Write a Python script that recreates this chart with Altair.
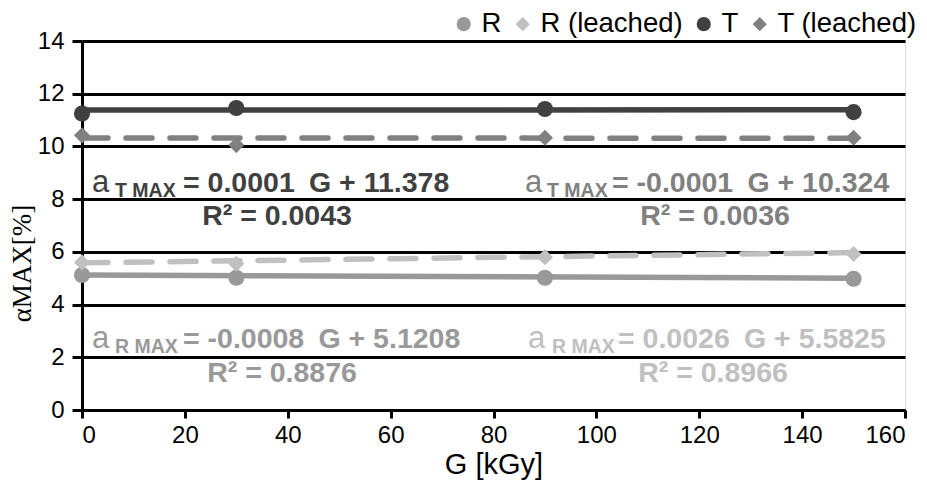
import altair as alt
import pandas as pd

# ---- data ----
series = ["R", "R (leached)", "T", "T (leached)"]
colors = ["#999999", "#c0c0c0", "#404040", "#808080"]
shapes = ["circle", "diamond", "circle", "diamond"]
dose = [0, 30, 90, 150]
vals_R = [5.12, 5.02, 5.02, 4.98]
vals_RL = [5.6, 5.55, 5.8, 5.92]
vals_T = [11.25, 11.46, 11.42, 11.3]
vals_TL = [10.42, 10.05, 10.33, 10.33]

# trend lines as printed on the chart (a = slope*G + intercept)
slopes = [-0.0008, 0.0026, 0.0001, -0.0001]
intercepts = [5.1208, 5.5825, 11.378, 10.324]
dashed = [False, True, False, True]
g_range = [0, 150]

x_ticks = [0, 20, 40, 60, 80, 100, 120, 140, 160]
y_ticks = [0, 2, 4, 6, 8, 10, 12, 14]

FONT = "Liberation Sans"
SP = "\u2002"  # wide space as in the reference equations

rows = []
for s, v in zip(series, [vals_R, vals_RL, vals_T, vals_TL]):
    for g, y in zip(dose, v):
        rows.append({"series": s, "G": g, "value": y})
pts = pd.DataFrame(rows)

W, H = 823, 369
xs = alt.Scale(domain=[0, 160], nice=False, zero=False)
ys = alt.Scale(domain=[0, 14], nice=False)

x_axis = alt.Axis(values=x_ticks, grid=False, title="G [kGy]", labelFontSize=24,
                  labelFont=FONT, labelColor="black", labelPadding=5,
                  titleFont=FONT, titleFontSize=29, titleFontWeight="normal",
                  titleColor="black", titlePadding=3, domainColor="black",
                  domainWidth=3, tickColor="black", tickWidth=3, tickSize=8)
y_axis = alt.Axis(values=y_ticks, grid=True, gridColor="black", gridWidth=3,
                  title="αMAX[%]", labelFontSize=24, labelFont=FONT,
                  labelColor="black", labelPadding=8,
                  titleFont="Liberation Serif", titleFontSize=27,
                  titleFontWeight="normal", titleColor="black",
                  titleX=-60, titleY=222, titleBaseline="middle",
                  domainColor="black", domainWidth=3, tickColor="black",
                  tickWidth=3, tickSize=10)

layers = []
base = alt.Chart(pts).mark_point(opacity=0).encode(
    x=alt.X("G:Q", scale=xs, axis=x_axis),
    y=alt.Y("value:Q", scale=ys, axis=y_axis),
)
layers.append(base)

for s, c, m, b, d in zip(series, colors, slopes, intercepts, dashed):
    ldf = pd.DataFrame({"G": g_range, "m": [m, m], "b": [b, b]})
    kw = dict(color=c, strokeWidth=5.5, strokeCap="round")
    if d:
        kw["strokeDash"] = [26, 18]
    ln = alt.Chart(ldf).transform_calculate(
        value="datum.m * datum.G + datum.b"
    ).mark_line(**kw).encode(
        x=alt.X("G:Q", scale=xs),
        y=alt.Y("value:Q", scale=ys),
    )
    layers.append(ln)

pts_layer = alt.Chart(pts).mark_point(filled=True, opacity=1, size=260).encode(
    x=alt.X("G:Q", scale=xs),
    y=alt.Y("value:Q", scale=ys),
    color=alt.Color("series:N", scale=alt.Scale(domain=series, range=colors),
                    legend=alt.Legend(title=None, orient="none", legendX=368,
                                      legendY=-31, direction="horizontal",
                                      padding=0, labelFontSize=27.5, labelFont=FONT,
                                      labelColor="black", symbolSize=200,
                                      columnPadding=7, labelOffset=4,
                                      symbolStrokeWidth=0)),
    shape=alt.Shape("series:N", scale=alt.Scale(domain=series, range=shapes)),
)
layers.append(pts_layer)

# equation annotations
dummy = pd.DataFrame({"k": [0]})
eqs = [
    (10, 33, 101, 151, "T MAX", f"= 0.0001{SP}G + 11.378", 195, 184, "R² = 0.0043", "#404040"),
    (443, 465, 530, 151, "T MAX", f"= -0.0001{SP}G + 10.324", 633, 184, "R² = 0.0036", "#808080"),
    (10, 33, 101, 307, "R MAX", f"= -0.0008{SP}G + 5.1208", 200, 341, "R² = 0.8876", "#999999"),
    (446, 470, 536, 307, "R MAX", f"= 0.0026{SP}G + 5.5825", 631, 341, "R² = 0.8966", "#c0c0c0"),
]
for ax, sx, rx, bl, sub, rest, rc, rb, r2, c in eqs:
    layers.append(alt.Chart(dummy).mark_text(text="a", font=FONT, fontSize=31,
                  align="left", baseline="alphabetic", color=c).encode(
        x=alt.value(ax), y=alt.value(bl)))
    layers.append(alt.Chart(dummy).mark_text(text=sub, font=FONT, fontSize=19.5,
                  fontWeight="bold", align="left", baseline="alphabetic",
                  color=c).encode(x=alt.value(sx), y=alt.value(bl + 5)))
    layers.append(alt.Chart(dummy).mark_text(text=rest, font=FONT, fontSize=28.5,
                  fontWeight="bold", align="left", baseline="alphabetic",
                  color=c).encode(x=alt.value(rx), y=alt.value(bl)))
    layers.append(alt.Chart(dummy).mark_text(text=r2, font=FONT, fontSize=28.5,
                  fontWeight="bold", align="center", baseline="alphabetic",
                  color=c).encode(x=alt.value(rc), y=alt.value(rb)))

chart = alt.layer(*layers).properties(
    width=W, height=H,
    autosize=alt.AutoSizeParams(type="none"),
    padding={"left": 74, "top": 33, "right": 14, "bottom": 76},
).configure_view(stroke="black", strokeWidth=3).configure(background="white")

chart.save("out.html", embed_options={"renderer": "svg", "actions": False})
